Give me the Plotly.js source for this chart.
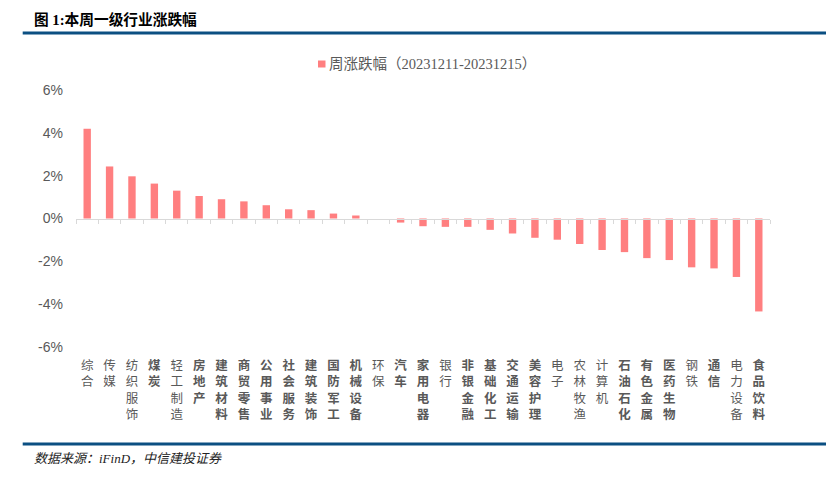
<!DOCTYPE html>
<html>
<head>
<meta charset="utf-8">
<script src="https://cdn.plot.ly/plotly-3.0.1.min.js"></script>
<style>
  html, body { margin: 0; padding: 0; background: #fff; }
  #chart { width: 826px; height: 479px; }
</style>
</head>
<body>
<div id="chart"></div>
<script>
// ---- data ----
const industries = ["综合","传媒","纺织服饰","煤炭","轻工制造","房地产","建筑材料","商贸零售","公用事业","社会服务","建筑装饰","国防军工","机械设备","环保","汽车","家用电器","银行","非银金融","基础化工","交通运输","美容护理","电子","农林牧渔","计算机","石油石化","有色金属","医药生物","钢铁","通信","电力设备","食品饮料"];
const weeklyChange = [4.19, 2.43, 1.97, 1.63, 1.30, 1.05, 0.90, 0.80, 0.62, 0.43, 0.39, 0.23, 0.14, 0.00, -0.19, -0.36, -0.39, -0.39, -0.53, -0.70, -0.90, -0.99, -1.19, -1.47, -1.57, -1.85, -1.94, -2.28, -2.33, -2.73, -4.34];
const boldLabels = ["煤炭","房地产","建筑材料","商贸零售","公用事业","社会服务","建筑装饰","国防军工","机械设备","汽车","家用电器","非银金融","基础化工","交通运输","美容护理","石油石化","有色金属","医药生物","通信","食品饮料"];
const yTickVals = [-6, -4, -2, 0, 2, 4, 6];
const yTickText = ["-6%", "-4%", "-2%", "0%", "2%", "4%", "6%"];
const seriesName = "周涨跌幅（20231211-20231215）";
const chartTitle = "<b>图 1:本周一级行业涨跌幅</b>";
const sourceText = "<i>数据来源：iFinD，中信建投证券</i>";

const barColor = "#ff7f80";
const tickText = industries.map(n => {
  const v = n.split("").join("<br>");
  return boldLabels.includes(n) ? "<b>" + v + "</b>" : v;
});

const trace = {
  type: "bar",
  x: industries,
  y: weeklyChange,
  name: seriesName,
  marker: { color: barColor },
  showlegend: false
};

// plot area: x 76..770 (694 px), y 90..347 (257 px)
const PW = 694, PH = 257;
const px = v => (v - 76) / PW;          // page x -> paper x
const py = v => (347 - v) / PH;         // page y -> paper y

const layout = {
  width: 826, height: 479,
  margin: { l: 76, r: 56, t: 90, b: 132 },
  paper_bgcolor: "#fff", plot_bgcolor: "#fff",
  bargap: 0.67,
  font: { family: "Liberation Sans, Noto Sans CJK SC, sans-serif", color: "#595959" },
  showlegend: false,
  xaxis: {
    type: "category",
    anchor: "free", position: 0.5,
    range: [-0.5, industries.length - 0.5],
    tickmode: "array", tickvals: industries, ticktext: tickText,
    tickson: "boundaries", ticks: "outside", ticklen: 4, tickcolor: "#d9d9d9",
    showline: true, linecolor: "#d9d9d9", linewidth: 1.5,
    showgrid: false, zeroline: false,
    tickangle: 0,
    ticklabelstandoff: 135,
    tickfont: { family: "Noto Sans CJK SC, sans-serif", size: 12.5, color: "#595959" },
    automargin: false
  },
  yaxis: {
    range: [-6, 6],
    tickmode: "array", tickvals: yTickVals, ticktext: yTickText,
    showgrid: false, zeroline: false, showline: false, ticks: "",
    ticklabelstandoff: 12,
    tickfont: { family: "Liberation Sans, sans-serif", size: 14, color: "#595959" },
    automargin: false
  },
  annotations: [
    { text: chartTitle, xref: "paper", yref: "paper", x: px(32), y: py(19.3),
      xanchor: "left", yanchor: "middle", showarrow: false,
      font: { family: "Liberation Serif, Noto Sans CJK SC, serif", size: 14.7, color: "#000" } },
    { text: seriesName, xref: "paper", yref: "paper", x: px(327), y: py(64),
      xanchor: "left", yanchor: "middle", showarrow: false,
      font: { family: "Liberation Serif, Noto Sans CJK SC, serif", size: 14.5, color: "#595959" } },
    { text: sourceText, xref: "paper", yref: "paper", x: px(32), y: py(458.5),
      xanchor: "left", yanchor: "middle", showarrow: false,
      font: { family: "Liberation Serif, Noto Sans CJK SC, serif", size: 13, color: "#222" } }
  ],
  shapes: [
    { type: "rect", xref: "paper", yref: "paper", x0: px(318), x1: px(325.5), y0: py(67.5), y1: py(60.5),
      fillcolor: barColor, line: { width: 0 } },
    { type: "line", xref: "paper", yref: "paper", x0: px(22.7), x1: px(826), y0: py(33), y1: py(33),
      line: { color: "#0b4f82", width: 3 } },
    { type: "line", xref: "paper", yref: "paper", x0: px(22.7), x1: px(826), y0: py(444), y1: py(444),
      line: { color: "#0b4f82", width: 3 } }
  ]
};

Plotly.newPlot("chart", [trace], layout, { displayModeBar: false, staticPlot: true });
</script>
</body>
</html>
